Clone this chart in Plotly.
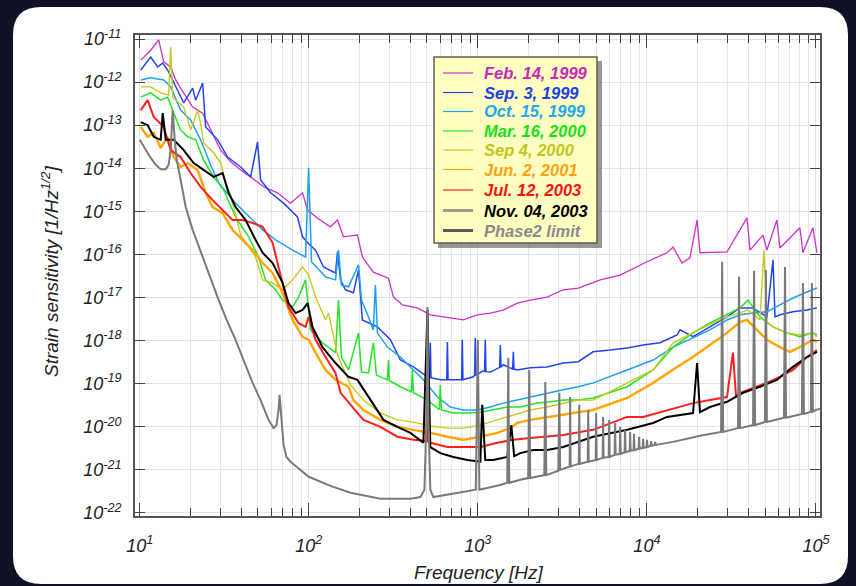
import numpy as np
import plotly.graph_objects as go

# ------------------------------------------------------------------
# Data: log10(frequency / Hz) and log10(strain / Hz^-1/2)
# ------------------------------------------------------------------
series_names = ["Feb. 14, 1999", "Sep. 3, 1999", "Oct. 15, 1999", "Mar. 16, 2000",
                "Sep 4, 2000", "Jun. 2, 2001", "Jul. 12, 2003", "Nov. 04, 2003",
                "Phase2 limit"]

feb1999_logf = [1.006, 1.065, 1.112, 1.142, 1.183, 1.213, 1.242, 1.313, 1.372, 1.419,
                1.479, 1.538, 1.597, 1.656, 1.733, 1.815, 1.892, 1.963, 1.993, 2.052,
                2.128, 2.170, 2.205, 2.247, 2.288, 2.317, 2.382, 2.471, 2.501, 2.554,
                2.642, 2.719, 2.820, 2.914, 2.997, 3.074, 3.150, 3.233, 3.310, 3.410,
                3.505, 3.594, 3.724, 3.842, 4.001, 4.119, 4.155, 4.208, 4.255, 4.297,
                4.314, 4.474, 4.592, 4.610, 4.687, 4.710, 4.769, 4.787, 4.905, 4.923,
                4.982, 5.006]
feb1999_logh = [-11.49, -11.26, -11.02, -11.53, -11.65, -11.95, -12.14, -12.58, -12.72, -13.11,
                -13.58, -13.85, -14.04, -14.20, -14.43, -14.57, -14.81, -14.57, -14.97, -15.16,
                -15.36, -15.20, -15.59, -15.57, -15.55, -16.06, -16.41, -16.55, -16.99, -17.17,
                -17.24, -17.40, -17.47, -17.52, -17.40, -17.36, -17.29, -17.13, -17.06, -16.99,
                -16.82, -16.78, -16.59, -16.48, -16.17, -15.96, -15.83, -16.20, -16.08, -15.20,
                -15.96, -15.94, -15.15, -15.90, -15.55, -15.90, -15.20, -15.85, -15.38, -15.96,
                -15.38, -15.96]

sep1999_logf = [1.006, 1.065, 1.106, 1.136, 1.165, 1.201, 1.260, 1.313, 1.331, 1.372,
                1.390, 1.461, 1.520, 1.597, 1.656, 1.697, 1.715, 1.774, 1.851, 1.933,
                1.963, 1.993, 2.040, 2.087, 2.158, 2.170, 2.188, 2.217, 2.264, 2.294,
                2.317, 2.406, 2.483, 2.542, 2.619, 2.702, 2.715, 2.719, 2.723, 2.778,
                2.816, 2.820, 2.824, 2.855, 2.904, 2.908, 2.912, 2.973, 2.981, 2.985,
                2.989, 3.032, 3.040, 3.044, 3.048, 3.074, 3.129, 3.133, 3.137, 3.150,
                3.206, 3.210, 3.214, 3.233, 3.310, 3.410, 3.505, 3.594, 3.682, 3.783,
                3.883, 3.978, 4.078, 4.178, 4.196, 4.273, 4.373, 4.474, 4.551, 4.628,
                4.710, 4.746, 4.758, 4.787, 4.864, 4.947, 5.006]
sep1999_logh = [-11.72, -11.42, -11.65, -11.56, -11.72, -12.02, -12.48, -12.14, -12.42, -12.02,
                -13.04, -13.34, -13.74, -13.97, -14.20, -13.39, -14.27, -14.57, -14.81, -15.13,
                -15.59, -15.73, -15.90, -16.29, -16.43, -15.94, -16.59, -16.82, -16.89, -16.36,
                -17.52, -17.68, -17.98, -18.45, -18.61, -18.84, -18.86, -18.05, -18.86, -18.91,
                -18.91, -18.03, -18.91, -18.91, -18.91, -17.98, -18.91, -18.84, -18.80, -17.94,
                -18.80, -18.70, -18.72, -17.98, -18.72, -18.73, -18.62, -18.10, -18.62, -18.56,
                -18.66, -18.26, -18.66, -18.68, -18.63, -18.61, -18.52, -18.49, -18.26, -18.22,
                -18.17, -18.10, -18.05, -17.87, -17.75, -17.91, -17.68, -17.45, -17.24, -17.24,
                -17.45, -16.13, -17.45, -17.40, -17.33, -17.29, -17.24]

oct1999_logf = [1.006, 1.065, 1.142, 1.183, 1.242, 1.301, 1.360, 1.419, 1.467, 1.567,
                1.668, 1.727, 1.804, 1.904, 1.981, 1.999, 2.016, 2.099, 2.158, 2.176,
                2.193, 2.235, 2.294, 2.312, 2.353, 2.382, 2.394, 2.406, 2.465, 2.542,
                2.601, 2.678, 2.761, 2.837, 2.914, 2.997, 3.074, 3.150, 3.233, 3.310,
                3.410, 3.505, 3.594, 3.682, 3.883, 4.037, 4.155, 4.273, 4.373, 4.474,
                4.551, 4.628, 4.710, 4.787, 4.864, 4.947, 5.006]
oct1999_logh = [-11.95, -11.90, -11.95, -12.11, -12.65, -12.88, -13.34, -13.92, -14.34, -14.81,
                -15.20, -15.43, -15.66, -15.90, -16.06, -13.99, -16.17, -16.52, -16.59, -15.90,
                -16.71, -16.75, -16.24, -17.06, -17.45, -17.75, -16.71, -17.82, -18.15, -18.38,
                -18.61, -18.91, -19.31, -19.54, -19.61, -19.61, -19.54, -19.45, -19.38, -19.31,
                -19.21, -19.14, -19.07, -18.98, -18.68, -18.45, -18.15, -17.94, -17.75, -17.52,
                -17.40, -17.36, -17.33, -17.17, -17.01, -16.87, -16.78]

mar2000_logf = [1.006, 1.065, 1.124, 1.165, 1.201, 1.242, 1.284, 1.331, 1.378, 1.437,
                1.496, 1.567, 1.644, 1.703, 1.744, 1.804, 1.845, 1.904, 1.939, 1.981,
                2.010, 2.081, 2.158, 2.176, 2.193, 2.235, 2.294, 2.312, 2.353, 2.382,
                2.400, 2.465, 2.471, 2.477, 2.542, 2.607, 2.613, 2.619, 2.702, 2.772,
                2.778, 2.784, 2.855, 2.938, 3.015, 3.091,
                3.174, 3.251, 3.351, 3.428, 3.505, 3.594, 3.682, 3.883, 4.037, 4.155,
                4.273, 4.373, 4.474, 4.551, 4.598, 4.669, 4.746, 4.828, 4.905, 4.982,
                5.006]
mar2000_logh = [-12.35, -12.25, -12.42, -12.35, -12.72, -13.11, -13.27, -13.34, -13.81, -14.20,
                -14.50, -15.13, -15.59, -16.06, -16.59, -16.82, -17.06, -17.22, -16.99, -16.59,
                -17.75, -18.05, -18.28, -17.06, -18.38, -18.68, -17.82, -18.73, -18.75, -18.05,
                -18.80, -18.91, -18.45, -18.93, -19.07, -19.19, -18.68, -19.21, -19.38, -19.60,
                -19.03, -19.61, -19.68, -19.68, -19.66, -19.61,
                -19.54, -19.54, -19.45, -19.42, -19.38, -19.38, -19.33, -19.07, -18.68, -18.15,
                -17.82, -17.59, -17.40, -17.24, -17.06, -17.45, -17.68, -17.82, -17.91, -17.82,
                -17.87]

sep2000_logf = [1.006, 1.065, 1.124, 1.171, 1.183, 1.195, 1.260, 1.301, 1.343, 1.360,
                1.378, 1.437, 1.479, 1.508, 1.538, 1.597, 1.685, 1.727, 1.786, 1.845,
                1.904, 1.963, 1.999, 2.040, 2.099, 2.117, 2.170, 2.247, 2.323, 2.424,
                2.524, 2.619, 2.719, 2.820, 2.914, 3.015, 3.115, 3.210, 3.310, 3.410,
                3.505, 3.594, 3.682, 3.883, 4.037, 4.155, 4.273, 4.391, 4.474, 4.551,
                4.598, 4.669, 4.692, 4.710, 4.746, 4.828, 4.905, 4.982, 5.006]
sep2000_logh = [-12.11, -12.11, -12.25, -12.30, -11.19, -12.35, -12.58, -13.11, -12.65, -12.95,
                -13.41, -13.64, -13.88, -14.34, -14.62, -15.55, -16.06, -16.59, -16.66, -16.82,
                -16.59, -16.29, -16.48, -16.99, -17.52, -17.36, -18.33, -19.03, -19.38, -19.68,
                -19.84, -19.89, -19.98, -20.03, -20.03, -19.96, -19.84, -19.72, -19.61, -19.54,
                -19.45, -19.38, -19.38, -18.98, -18.68, -18.05, -17.82, -17.59, -17.45, -17.36,
                -17.29, -17.52, -15.90, -17.57, -17.68, -17.82, -17.87, -17.82, -17.91]

jun2001_logf = [1.006, 1.047, 1.083, 1.124, 1.165, 1.201, 1.242, 1.284, 1.343, 1.390,
                1.431, 1.490, 1.549, 1.609, 1.668, 1.727, 1.786, 1.845, 1.904, 1.963,
                1.999, 2.040, 2.099, 2.158, 2.235, 2.264, 2.323, 2.424, 2.524, 2.619,
                2.719, 2.820, 2.914, 3.015, 3.115, 3.192, 3.233, 3.310, 3.410, 3.505,
                3.594, 3.682, 3.883, 4.037, 4.178, 4.273, 4.391, 4.474, 4.551, 4.592,
                4.651, 4.710, 4.787, 4.846, 4.905, 4.982, 5.006]
jun2001_logh = [-13.04, -13.27, -13.18, -13.53, -13.27, -13.74, -13.97, -13.88, -14.04, -14.57,
                -14.90, -15.04, -15.43, -15.66, -15.90, -16.20, -16.43, -16.89, -17.52, -17.91,
                -17.98, -18.28, -18.68, -18.91, -19.07, -19.38, -19.61, -19.84, -20.00, -20.07,
                -20.14, -20.23, -20.30, -20.23, -20.14, -20.03, -19.91, -19.84, -19.77, -19.72,
                -19.66, -19.61, -19.33, -18.98, -18.61, -18.38, -18.05, -17.82, -17.57, -17.52,
                -17.75, -17.98, -18.15, -18.26, -18.15, -17.98, -18.03]

jul2003_logf = [1.006, 1.047, 1.083, 1.142, 1.183, 1.242, 1.301, 1.360, 1.431, 1.490,
                1.549, 1.609, 1.668, 1.727, 1.786, 1.821, 1.880, 1.939, 1.981, 1.999,
                2.040, 2.099, 2.158, 2.188, 2.247, 2.323, 2.424, 2.524, 2.619, 2.696,
                2.702, 2.708, 2.719,
                2.820, 2.914, 3.015, 3.115, 3.210, 3.310, 3.410, 3.505, 3.682, 3.883,
                3.978, 4.119, 4.273, 4.373, 4.474, 4.509, 4.527, 4.551, 4.628, 4.710,
                4.787, 4.864, 4.947, 5.006]
jul2003_logh = [-12.65, -12.42, -12.81, -13.04, -13.58, -13.74, -14.11, -14.43, -14.74, -14.97,
                -15.20, -15.20, -15.27, -15.36, -15.73, -16.29, -17.22, -17.59, -17.68, -17.45,
                -17.98, -18.38, -18.75, -19.21, -19.49, -19.84, -20.00, -20.23, -20.30, -20.33,
                -18.10, -20.35, -20.37,
                -20.47, -20.47, -20.47, -20.37, -20.30, -20.26, -20.23, -20.19, -20.07, -19.77,
                -19.77, -19.61, -19.45, -19.38, -19.31, -18.28, -19.28, -19.21, -19.10, -18.98,
                -18.84, -18.68, -18.38, -18.22]

nov2003_logf = [1.006, 1.047, 1.083, 1.124, 1.136, 1.154, 1.201, 1.260, 1.319, 1.378,
                1.437, 1.490, 1.526, 1.567, 1.626, 1.685, 1.727, 1.786, 1.845, 1.880,
                1.922, 1.963, 1.993, 2.022, 2.081, 2.158, 2.235, 2.288, 2.365, 2.442,
                2.524, 2.601, 2.678, 2.702, 2.719, 2.778, 2.855, 2.938, 3.015, 3.026,
                3.044, 3.091, 3.174, 3.198, 3.215, 3.251, 3.328, 3.410, 3.505, 3.682,
                3.883, 4.037, 4.119, 4.273, 4.297, 4.314, 4.373, 4.474, 4.569, 4.669,
                4.769, 4.864, 4.947, 5.006]
nov2003_logh = [-12.93, -13.00, -13.27, -13.34, -12.72, -13.34, -13.34, -13.58, -13.88, -14.04,
                -14.20, -14.11, -14.57, -14.90, -15.20, -15.66, -15.96, -16.20, -16.66, -17.13,
                -17.36, -17.29, -17.13, -17.68, -18.15, -18.52, -18.84, -18.91, -19.38, -19.84,
                -20.00, -20.14, -20.37, -17.29, -20.47, -20.61, -20.70, -20.77, -20.81, -19.49,
                -20.77, -20.77, -20.70, -19.96, -20.68, -20.61, -20.54, -20.54, -20.47, -20.23,
                -20.07, -19.91, -19.77, -19.68, -18.52, -19.66, -19.54, -19.42, -19.21, -19.07,
                -18.91, -18.61, -18.38, -18.26]

phase2_logf = [1.000, 1.035, 1.065, 1.095, 1.124, 1.154, 1.171, 1.183, 1.195, 1.207,
               1.219, 1.242, 1.272, 1.313, 1.372, 1.419, 1.467, 1.514, 1.567, 1.614,
               1.668, 1.715, 1.762, 1.792, 1.809, 1.821, 1.827, 1.839, 1.851, 1.868,
               1.892, 1.951, 2.000, 2.128, 2.247, 2.424, 2.601, 2.660, 2.684, 2.696,
               2.702, 2.708, 2.719, 2.737, 2.778, 2.897, 2.988, 3.000, 3.009, 3.133,
               3.174, 3.180, 3.186, 3.251, 3.298, 3.304, 3.310, 3.393, 3.399, 3.405,
               3.476, 3.482, 3.487,
               3.543, 3.546, 3.549, 3.597, 3.600, 3.603, 3.650, 3.653, 3.656,
               3.697, 3.700, 3.703, 3.738, 3.741, 3.744, 3.774, 3.777, 3.780,
               3.809, 3.812, 3.815, 3.839, 3.842, 3.845, 3.868, 3.871, 3.874,
               3.898, 3.901, 3.904, 3.921, 3.924, 3.927, 3.951, 3.954, 3.957,
               3.975, 3.978, 3.981, 3.998, 4.001, 4.004, 4.022, 4.025, 4.028,
               4.046, 4.049, 4.052, 4.155, 4.314,
               4.439, 4.445, 4.451, 4.539, 4.545, 4.551, 4.628, 4.634, 4.640,
               4.698, 4.704, 4.710, 4.811, 4.817, 4.823, 4.917, 4.923, 4.929,
               4.970, 4.976, 4.982, 5.000, 5.024]
phase2_logh = [-13.34, -13.58, -13.76, -13.92, -14.02, -14.02, -13.92, -13.58, -12.65, -13.34,
               -13.81, -14.27, -14.90, -15.43, -16.06, -16.59, -17.06, -17.52, -17.98, -18.45,
               -18.98, -19.38, -19.84, -20.03, -19.96, -19.61, -19.26, -19.84, -20.42, -20.70,
               -20.81, -21.00, -21.16, -21.37, -21.53, -21.67, -21.67, -21.63, -21.46, -19.84,
               -17.22, -19.84, -21.46, -21.63, -21.60, -21.53, -21.46, -17.98, -21.46, -21.35,
               -21.30, -18.40, -21.30, -21.23, -21.19, -18.68, -21.19, -21.12, -18.96, -21.12,
               -21.02, -19.21, -21.00,
               -20.92, -19.31, -20.92, -20.86, -19.49, -20.86, -20.81, -19.61, -20.81,
               -20.77, -19.68, -20.77, -20.72, -19.77, -20.72, -20.70, -19.84, -20.70,
               -20.65, -19.91, -20.65, -20.63, -20.00, -20.63, -20.59, -20.07, -20.59,
               -20.56, -20.12, -20.56, -20.54, -20.16, -20.54, -20.51, -20.23, -20.51,
               -20.49, -20.28, -20.49, -20.47, -20.30, -20.47, -20.44, -20.33, -20.44,
               -20.42, -20.35, -20.42, -20.35, -20.21,
               -20.12, -16.17, -20.12, -20.03, -16.52, -20.03, -19.96, -16.38, -19.96,
               -19.89, -16.36, -19.89, -19.79, -16.29, -19.79, -19.70, -16.66, -19.70,
               -19.65, -16.66, -19.65, -19.61, -19.58]

x_tick_vals = [1e1, 1e2, 1e3, 1e4, 1e5]
x_tick_text = ["10<sup>1</sup>", "10<sup>2</sup>", "10<sup>3</sup>", "10<sup>4</sup>", "10<sup>5</sup>"]
y_tick_exps = [-22, -21, -20, -19, -18, -17, -16, -15, -14, -13, -12, -11]
y_tick_vals = [10.0 ** e for e in y_tick_exps]
y_tick_text = ["10<sup>%d</sup>" % e for e in y_tick_exps]

# ------------------------------------------------------------------
# Styling
# ------------------------------------------------------------------
line_colors = ["#CF30C8", "#2244F0", "#1EA0F0", "#22E622", "#C8C820",
               "#FFA500", "#FF1E1E", "#000000", "#7A7A7A"]
line_widths = [1.3, 1.5, 1.5, 1.5, 1.4, 2.4, 2.0, 2.0, 2.0]
text_colors = ["#C828B8", "#2040E8", "#22A6F0", "#18E018", "#C4C420",
               "#FFA010", "#FF1010", "#000000", "#8A8A8A"]
sample_colors = ["#CF30C8", "#2244F0", "#1EA0F0", "#22E622", "#C8C820",
                 "#FFA500", "#FF1E1E", "#9C9C8C", "#5A5A5A"]
sample_widths = [1.2, 1.2, 1.2, 1.2, 1.2, 1.2, 1.2, 3, 3]

series_data = [(feb1999_logf, feb1999_logh), (sep1999_logf, sep1999_logh),
               (oct1999_logf, oct1999_logh), (mar2000_logf, mar2000_logh),
               (sep2000_logf, sep2000_logh), (jun2001_logf, jun2001_logh),
               (jul2003_logf, jul2003_logh), (nov2003_logf, nov2003_logh),
               (phase2_logf, phase2_logh)]

FONT = "Arial, Liberation Sans, Helvetica, sans-serif"
W, H = 856, 586
ML, MR, MT, MB = 135, 36, 35, 70
PW, PH = W - ML - MR, H - MT - MB


def px_x(px):
    return (px - ML) / PW


def px_y(py):
    return (H - MB - py) / PH


fig = go.Figure()
for name, (lf, lh), col, lw in zip(series_names, series_data, line_colors, line_widths):
    fig.add_trace(go.Scatter(
        x=np.power(10.0, np.array(lf)), y=np.power(10.0, np.array(lh)),
        mode="lines", name=name, showlegend=False, hoverinfo="skip",
        line=dict(color=col, width=lw)))

shapes = []
# white rounded panel
x0, x1 = px_x(13), px_x(848)
yt, yb = px_y(7), px_y(584)
rx, ry = 28 / PW, 28 / PH
panel = (f"M {x0+rx},{yt} L {x1-rx},{yt} Q {x1},{yt} {x1},{yt-ry} "
         f"L {x1},{yb+ry} Q {x1},{yb} {x1-rx},{yb} L {x0+rx},{yb} "
         f"Q {x0},{yb} {x0},{yb+ry} L {x0},{yt-ry} Q {x0},{yt} {x0+rx},{yt} Z")
shapes.append(dict(type="path", path=panel, xref="paper", yref="paper",
                   fillcolor="white", line=dict(width=0), layer="below"))
# legend shadow and box
shapes.append(dict(type="rect", xref="paper", yref="paper",
                   x0=px_x(438), x1=px_x(602), y0=px_y(248), y1=px_y(61),
                   fillcolor="rgba(70,70,60,0.55)", line=dict(width=0), layer="above"))
shapes.append(dict(type="rect", xref="paper", yref="paper",
                   x0=px_x(434), x1=px_x(597), y0=px_y(243), y1=px_y(57),
                   fillcolor="#FFFFC2", line=dict(color="#5E5E50", width=1.5), layer="above"))

row_y = [73, 92.5, 111.5, 131, 150, 169.5, 190, 210.5, 230.5]
annotations = []
for name, ry_, tc, sc, sw in zip(series_names, row_y, text_colors, sample_colors, sample_widths):
    shapes.append(dict(type="line", xref="paper", yref="paper",
                       x0=px_x(443), x1=px_x(473), y0=px_y(ry_), y1=px_y(ry_),
                       line=dict(color=sc, width=sw), layer="above"))
    annotations.append(dict(text=f"<b><i>{name}</i></b>", xref="paper", yref="paper",
                            x=px_x(482), y=px_y(ry_), xanchor="left", yanchor="middle",
                            showarrow=False, font=dict(family=FONT, size=16.5, color=tc)))

annotations.append(dict(text="<i>Frequency [Hz]</i>", xref="paper", yref="paper",
                        x=px_x(479), y=px_y(572), xanchor="center", yanchor="middle",
                        showarrow=False, font=dict(family=FONT, size=19, color="#222")))
annotations.append(dict(text="<i>Strain sensitivity [1/Hz<sup>1/2</sup>]</i>",
                        xref="paper", yref="paper", x=px_x(50), y=px_y(272),
                        xanchor="center", yanchor="middle", textangle=-90,
                        showarrow=False, font=dict(family=FONT, size=19, color="#222")))

axis_common = dict(
    type="log", showline=True, linecolor="#555555", linewidth=2, mirror="allticks",
    ticks="inside", tickcolor="#444444", tickwidth=1.4,
    showgrid=True, gridcolor="#E2E2E2", gridwidth=1, zeroline=False,
    tickfont=dict(family=FONT, size=18, color="#222222", style="italic"),
)

fig.update_layout(
    width=W, height=H, autosize=False,
    margin=dict(l=ML, r=MR, t=MT, b=MB, pad=0),
    paper_bgcolor="#0E1224", plot_bgcolor="white",
    showlegend=False,
    xaxis=dict(axis_common, range=[0.972, 5.024], tickmode="array",
               tickvals=x_tick_vals, ticktext=x_tick_text, ticklen=13,
               ticklabelstandoff=12,
               minor=dict(dtick="D1", ticks="inside", ticklen=8, tickcolor="#444444",
                          tickwidth=1.2, showgrid=True, gridcolor="#E6E6E6", gridwidth=1)),
    yaxis=dict(axis_common, range=[-22.07, -10.907], tickmode="array",
               tickvals=y_tick_vals, ticktext=y_tick_text, ticklen=10,
               ticklabelstandoff=8),
    shapes=shapes, annotations=annotations,
)

fig.write_html("out.html", config={"displayModeBar": False},
               post_script="document.body.style.margin='0';document.body.style.overflow='hidden';")
